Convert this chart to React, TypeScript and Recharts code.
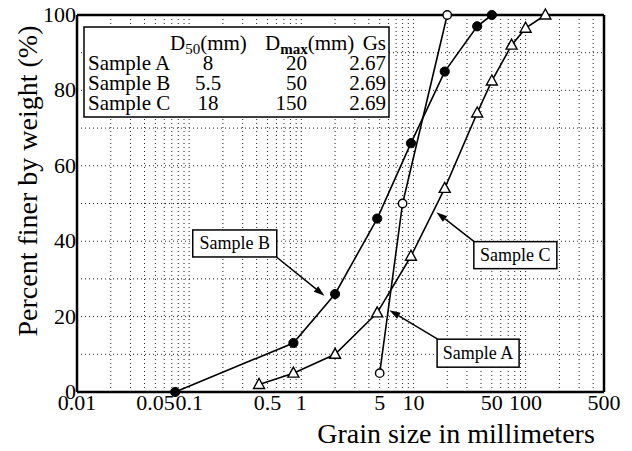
import React from 'react';
import { LineChart, Line, XAxis, YAxis, ReferenceLine, ReferenceDot } from 'recharts';

const FONT = '"Liberation Serif", "Times New Roman", Times, serif';

// ---- Data (grain size in mm, percent finer by weight) ----
const sampleAGrain = [5, 8, 20];
const sampleAFiner = [5, 50, 100];
const sampleBGrain = [0.075, 0.85, 2, 4.75, 9.5, 19, 37, 50];
const sampleBFiner = [0, 13, 26, 46, 66, 85, 97, 100];
const sampleCGrain = [0.42, 0.85, 2, 4.75, 9.5, 19, 37, 50, 75, 100, 150];
const sampleCFiner = [2, 5, 10, 21, 36, 54, 74, 82.5, 92, 96.5, 100];

// ---- Axis ticks ----
const xTicks = [0.01, 0.05, 0.1, 0.5, 1, 5, 10, 50, 100, 500];
const xTickLabels = ['0.01', '0.05', '0.1', '0.5', '1', '5', '10', '50', '100', '500'];
const yTicks = [0, 20, 40, 60, 80, 100];

// ---- Table ----
const tableSamples = ['Sample A', 'Sample B', 'Sample C'];
const tableD50 = ['8', '5.5', '18'];
const tableDmax = ['20', '50', '150'];
const tableGs = ['2.67', '2.69', '2.69'];

// ---- Callout annotations (data coordinates) ----
const callouts = [
  { label: 'Sample B', box: [0.255, 39.4], from: [0.6, 35.8], to: [1.61, 25.5], w: 84, h: 27 },
  { label: 'Sample C', box: [81, 36.3], from: [35, 39.8], to: [16, 47.7], w: 83, h: 27 },
  { label: 'Sample A', box: [37.7, 10.3], from: [16.3, 14.1], to: [6.1, 21.7], w: 82, h: 28 },
];

const toPoints = (xs: number[], ys: number[]) => xs.map((x, i) => ({ x, y: ys[i] }));
const dataA = toPoints(sampleAGrain, sampleAFiner);
const dataB = toPoints(sampleBGrain, sampleBFiner);
const dataC = toPoints(sampleCGrain, sampleCFiner);

const gridX: number[] = [];
[0.01, 0.1, 1, 10, 100].forEach((d) => {
  for (let m = 1; m <= 9; m++) {
    const v = Number((d * m).toPrecision(3));
    if (v > 0.01 && v < 500) gridX.push(v);
  }
});
const gridY = [10, 20, 30, 40, 50, 60, 70, 80, 90];

const XTick = (props: any) => {
  const { x, payload } = props;
  const idx = xTicks.indexOf(payload.value);
  return (
    <text x={x} y={410} textAnchor="middle" fontFamily={FONT} fontSize={22} fill="#000">
      {idx >= 0 ? xTickLabels[idx] : String(payload.value)}
    </text>
  );
};

const YTick = (props: any) => {
  const { y, payload } = props;
  return (
    <text x={76} y={y} dy={7} textAnchor="end" fontFamily={FONT} fontSize={22} fill="#000">
      {payload.value}
    </text>
  );
};

const TriangleDot = (props: any) => {
  const { cx, cy } = props;
  if (cx == null || cy == null) return <g />;
  return (
    <polygon
      points={`${cx},${cy - 6} ${cx - 5.5},${cy + 4} ${cx + 5.5},${cy + 4}`}
      fill="#fff"
      stroke="#000"
      strokeWidth={1.4}
    />
  );
};

const ArrowShape = (props: any) => {
  const { x1, y1, x2, y2 } = props;
  const ang = Math.atan2(y2 - y1, x2 - x1);
  const L = 11;
  const W = 3.5;
  const bx = x2 - L * Math.cos(ang);
  const by = y2 - L * Math.sin(ang);
  const px = -Math.sin(ang) * W;
  const py = Math.cos(ang) * W;
  return (
    <g>
      <line x1={x1} y1={y1} x2={bx} y2={by} stroke="#000" strokeWidth={1.5} />
      <polygon points={`${x2},${y2} ${bx + px},${by + py} ${bx - px},${by - py}`} fill="#000" />
    </g>
  );
};

const makeBox = (label: string, w: number, h: number) => (props: any) => {
  const { cx, cy } = props;
  return (
    <g>
      <rect x={cx - w / 2} y={cy - h / 2} width={w} height={h} fill="#fff" stroke="#000" strokeWidth={1.5} />
      <text x={cx} y={cy} dy={6} textAnchor="middle" fontFamily={FONT} fontSize={18} fill="#000">
        {label}
      </text>
    </g>
  );
};

export default function App() {
  const rowY = [70, 90, 110];
  return (
    <div style={{ position: 'absolute', left: 0, top: 0, width: 632, height: 451, background: '#fff' }}>
      <LineChart width={632} height={451} margin={{ top: 15, right: 28, bottom: 0, left: 0 }}>
        <XAxis
          type="number"
          dataKey="x"
          scale="log"
          domain={[0.01, 500]}
          ticks={xTicks}
          tick={<XTick />}
          tickLine={false}
          axisLine={{ stroke: '#000', strokeWidth: 2.5 }}
          height={59}
          interval={0}
        />
        <YAxis
          type="number"
          dataKey="y"
          domain={[0, 100]}
          ticks={yTicks}
          tick={<YTick />}
          tickLine={false}
          axisLine={{ stroke: '#000', strokeWidth: 2.5 }}
          width={77}
          interval={0}
        />
        {gridX.map((v) => (
          <ReferenceLine key={`gx${v}`} x={v} stroke="#222" strokeWidth={1} strokeDasharray="1 3" />
        ))}
        {gridY.map((v) => (
          <ReferenceLine key={`gy${v}`} y={v} stroke="#222" strokeWidth={1} strokeDasharray="1 3" />
        ))}
        <ReferenceLine y={100} stroke="#000" strokeWidth={2.5} />
        <ReferenceLine x={500} stroke="#000" strokeWidth={2.5} />
        <Line
          data={dataA}
          dataKey="y"
          type="linear"
          stroke="#000"
          strokeWidth={1.6}
          isAnimationActive={false}
          dot={{ r: 4.2, fill: '#fff', stroke: '#000', strokeWidth: 1.4 }}
          activeDot={false}
        />
        <Line
          data={dataB}
          dataKey="y"
          type="linear"
          stroke="#000"
          strokeWidth={1.6}
          isAnimationActive={false}
          dot={{ r: 4.6, fill: '#000', stroke: '#000', strokeWidth: 1 }}
          activeDot={false}
        />
        <Line
          data={dataC}
          dataKey="y"
          type="linear"
          stroke="#000"
          strokeWidth={1.6}
          isAnimationActive={false}
          dot={<TriangleDot />}
          activeDot={false}
        />
        {callouts.map((c) => (
          <ReferenceLine
            key={`arr-${c.label}`}
            segment={[
              { x: c.from[0], y: c.from[1] },
              { x: c.to[0], y: c.to[1] },
            ]}
            shape={ArrowShape}
          />
        ))}
        {callouts.map((c) => (
          <ReferenceDot
            key={`box-${c.label}`}
            x={c.box[0]}
            y={c.box[1]}
            r={1}
            shape={makeBox(c.label, c.w, c.h)}
          />
        ))}
      </LineChart>
      <svg
        width={632}
        height={451}
        style={{ position: 'absolute', left: 0, top: 0, pointerEvents: 'none' }}
        fontFamily={FONT}
      >
        <rect x={84} y={27} width={305} height={90} fill="#fff" stroke="#000" strokeWidth={1.5} />
        <text x={170} y={50} fontSize={21} fill="#000">
          D<tspan fontSize={15} dy={4}>50</tspan>
          <tspan dy={-4}>(mm)</tspan>
        </text>
        <text x={265} y={50} fontSize={21} fill="#000">
          D<tspan fontSize={15} dy={4} fontWeight="bold">max</tspan>
          <tspan dy={-4}>(mm)</tspan>
        </text>
        <text x={386} y={50} fontSize={21} fill="#000" textAnchor="end">
          Gs
        </text>
        {tableSamples.map((s, i) => (
          <g key={s}>
            <text x={88} y={rowY[i]} fontSize={21} fill="#000">{s}</text>
            <text x={208} y={rowY[i]} fontSize={21} fill="#000" textAnchor="middle">{tableD50[i]}</text>
            <text x={307} y={rowY[i]} fontSize={21} fill="#000" textAnchor="end">{tableDmax[i]}</text>
            <text x={386} y={rowY[i]} fontSize={21} fill="#000" textAnchor="end">{tableGs[i]}</text>
          </g>
        ))}
        <text transform="translate(37,181) rotate(-90)" textAnchor="middle" fontSize={28} fill="#000">
          Percent finer by weight (%)
        </text>
        <text x={456} y={443} textAnchor="middle" fontSize={28} fill="#000">
          Grain size in millimeters
        </text>
      </svg>
    </div>
  );
}
